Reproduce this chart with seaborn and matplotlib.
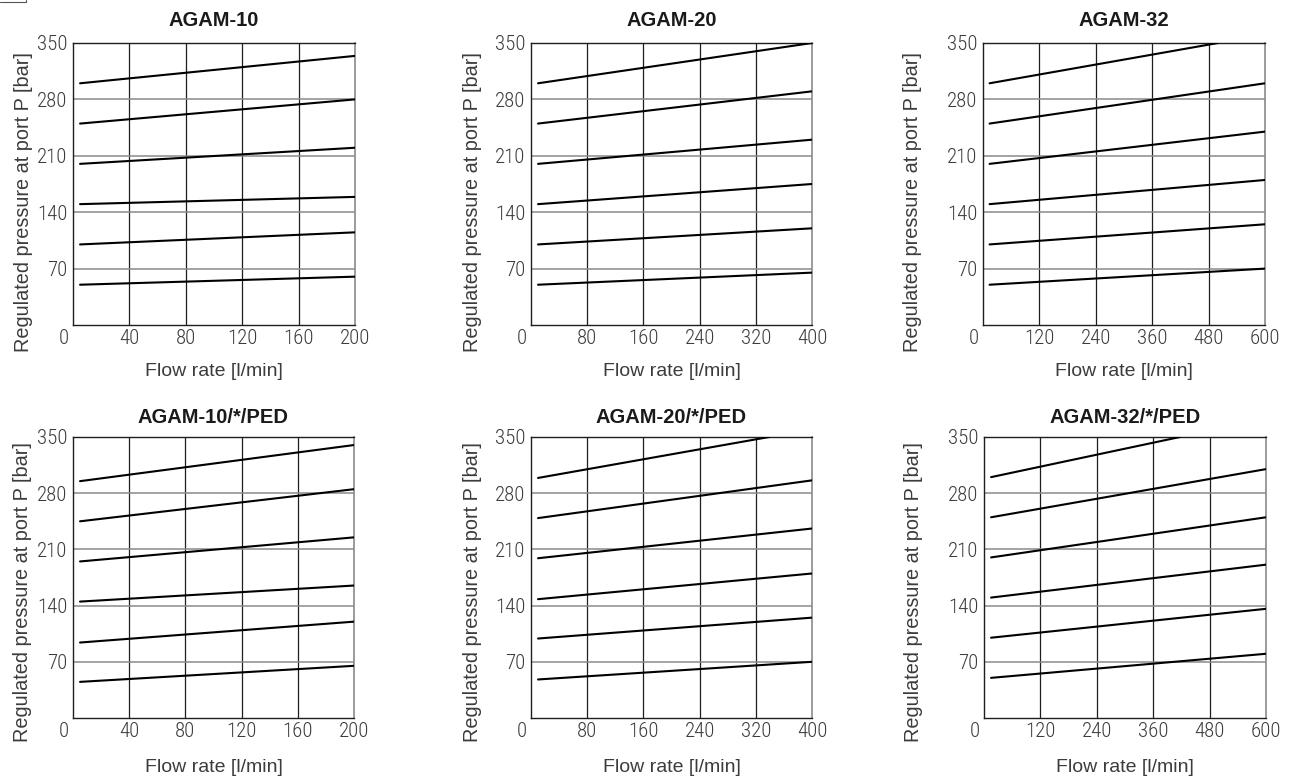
import numpy as np
import pandas as pd
import seaborn as sns
import matplotlib.pyplot as plt
from matplotlib import font_manager
from matplotlib.lines import Line2D
from matplotlib.transforms import ScaledTranslation

# --- data (start / end of each setting line) ---
titles = ["AGAM-10", "AGAM-20", "AGAM-32",
          "AGAM-10/*/PED", "AGAM-20/*/PED", "AGAM-32/*/PED"]
x_max = [200, 400, 600, 200, 400, 600]
x_step = [40, 80, 120, 40, 80, 120]

agam10_x = [5, 200]
agam10_p = [[300, 334], [250, 280], [200, 220], [150, 159], [100, 115], [50, 60]]

agam20_x = [10, 400]
agam20_p = [[300, 350], [250, 290], [200, 230], [150, 175], [100, 120], [50, 65]]

agam32_x = [14, 600]
agam32_end_x = [500, 600, 600, 600, 600, 600]
agam32_p = [[300, 350], [250, 300], [200, 240], [150, 180], [100, 125], [50, 70]]

agam10ped_x = [5, 200]
agam10ped_p = [[295, 340], [245, 285], [195, 225], [145, 165], [94, 120], [45, 65]]

agam20ped_x = [10, 400]
agam20ped_end_x = [339, 400, 400, 400, 400, 400]
agam20ped_p = [[299, 350], [249, 296], [199, 236], [148, 180], [99, 125], [48, 70]]

agam32ped_x = [15, 600]
agam32ped_end_x = [417, 600, 600, 600, 600, 600]
agam32ped_p = [[300, 350], [250, 310], [200, 250], [150, 191], [100, 136], [50, 80]]

y_ticks = [70, 140, 210, 280, 350]


def build(x0, x_ends, pres):
    rows = []
    for i, (p0, p1) in enumerate(pres):
        rows.append({"curve": i, "flow": x0, "pressure": p0})
        rows.append({"curve": i, "flow": x_ends[i], "pressure": p1})
    return pd.DataFrame(rows)


frames = [
    build(agam10_x[0], [agam10_x[1]] * 6, agam10_p),
    build(agam20_x[0], [agam20_x[1]] * 6, agam20_p),
    build(agam32_x[0], agam32_end_x, agam32_p),
    build(agam10ped_x[0], [agam10ped_x[1]] * 6, agam10ped_p),
    build(agam20ped_x[0], agam20ped_end_x, agam20ped_p),
    build(agam32ped_x[0], agam32ped_end_x, agam32ped_p),
]

# pick a narrow light-ish face for the tick numbers if one is installed
installed = {f.name for f in font_manager.fontManager.ttflist}
narrow = "DejaVu Sans"
for cand in ["Liberation Sans Narrow", "Roboto Condensed", "Open Sans Condensed",
             "DejaVu Sans Condensed", "Roboto"]:
    if cand in installed:
        narrow = cand
        break
narrow_weight = "light" if narrow in ("Roboto", "Roboto Condensed") else "normal"
narrow_stretch = "condensed" if narrow == "Roboto" else "normal"

sns.set_theme(style="white")
plt.rcParams["font.family"] = ["Liberation Sans", "DejaVu Sans"]

W, H = 1291, 781
fig = plt.figure(figsize=(W / 100, H / 100), dpi=100)

# axes boxes in pixels: left, top, width, height
boxes = [(73, 43, 282, 282), (531, 43, 281, 282), (983, 43, 282, 282),
         (73, 437, 281, 281), (531, 437, 281, 281), (984, 437, 282, 281)]
ylab_x = [-0.143, -0.175, -0.215, -0.146, -0.175, -0.218]

dark = "#1e1e1e"
grey = "#8a8a8a"
txt = "#3c3c3c"

for k, df in enumerate(frames):
    l, t, w, h = boxes[k]
    top_row = k < 3
    ax = fig.add_axes([l / W, 1 - (t + h) / H, w / W, h / H])
    xt = list(range(0, x_max[k] + 1, x_step[k]))

    for xv in xt[1:-1]:
        ax.axvline(xv, color=dark, lw=0.9, zorder=1)
    for yv in y_ticks[:-1]:
        ax.axhline(yv, color=grey, lw=1.1, zorder=1)

    sns.lineplot(data=df, x="flow", y="pressure", units="curve", estimator=None,
                 color="black", lw=1.5, ax=ax, zorder=3, legend=False)

    ax.set_xlim(0, x_max[k])
    ax.set_ylim(0, 350)
    ax.set_xticks(xt)
    ax.set_yticks(y_ticks)
    ax.set_xticklabels([str(v) for v in xt])
    ax.set_yticklabels([str(v) for v in y_ticks])
    ax.tick_params(length=0, labelsize=15, labelcolor=txt)
    ax.tick_params(axis="x", pad=3)
    ax.tick_params(axis="y", pad=4)
    for lab in ax.get_xticklabels() + ax.get_yticklabels():
        lab.set_fontfamily(narrow)
        lab.set_fontweight(narrow_weight)
        lab.set_fontstretch(narrow_stretch)
    first = ax.get_xticklabels()[0]
    first.set_ha("right")
    first.set_transform(first.get_transform() + ScaledTranslation(-4 / 100, 0, fig.dpi_scale_trans))

    for side in ["left", "bottom", "top"]:
        ax.spines[side].set_color(dark)
        ax.spines[side].set_linewidth(1.0)
    ax.spines["right"].set_color(grey)
    ax.spines["right"].set_linewidth(1.2)

    ax.set_title(titles[k], fontsize=14.5, fontweight="bold", color="#1a1a1a",
                 pad=12.5 if top_row else 10)
    ax.set_xlabel("Flow rate [l/min]", fontsize=14, color=txt, labelpad=11 if top_row else 13)
    ax.set_ylabel("Regulated pressure at port P [bar]", fontsize=14.3, color=txt)
    ax.yaxis.set_label_coords(ylab_x[k], 0.436 if top_row else 0.448)

# small corner of a frame at the top-left of the page
fig.add_artist(Line2D([0, 26 / W], [1 - 2 / H, 1 - 2 / H], color="#555555", lw=0.8))
fig.add_artist(Line2D([26 / W, 26 / W], [1, 1 - 2 / H], color="#555555", lw=0.8))

fig.savefig("out.png", dpi=100)
